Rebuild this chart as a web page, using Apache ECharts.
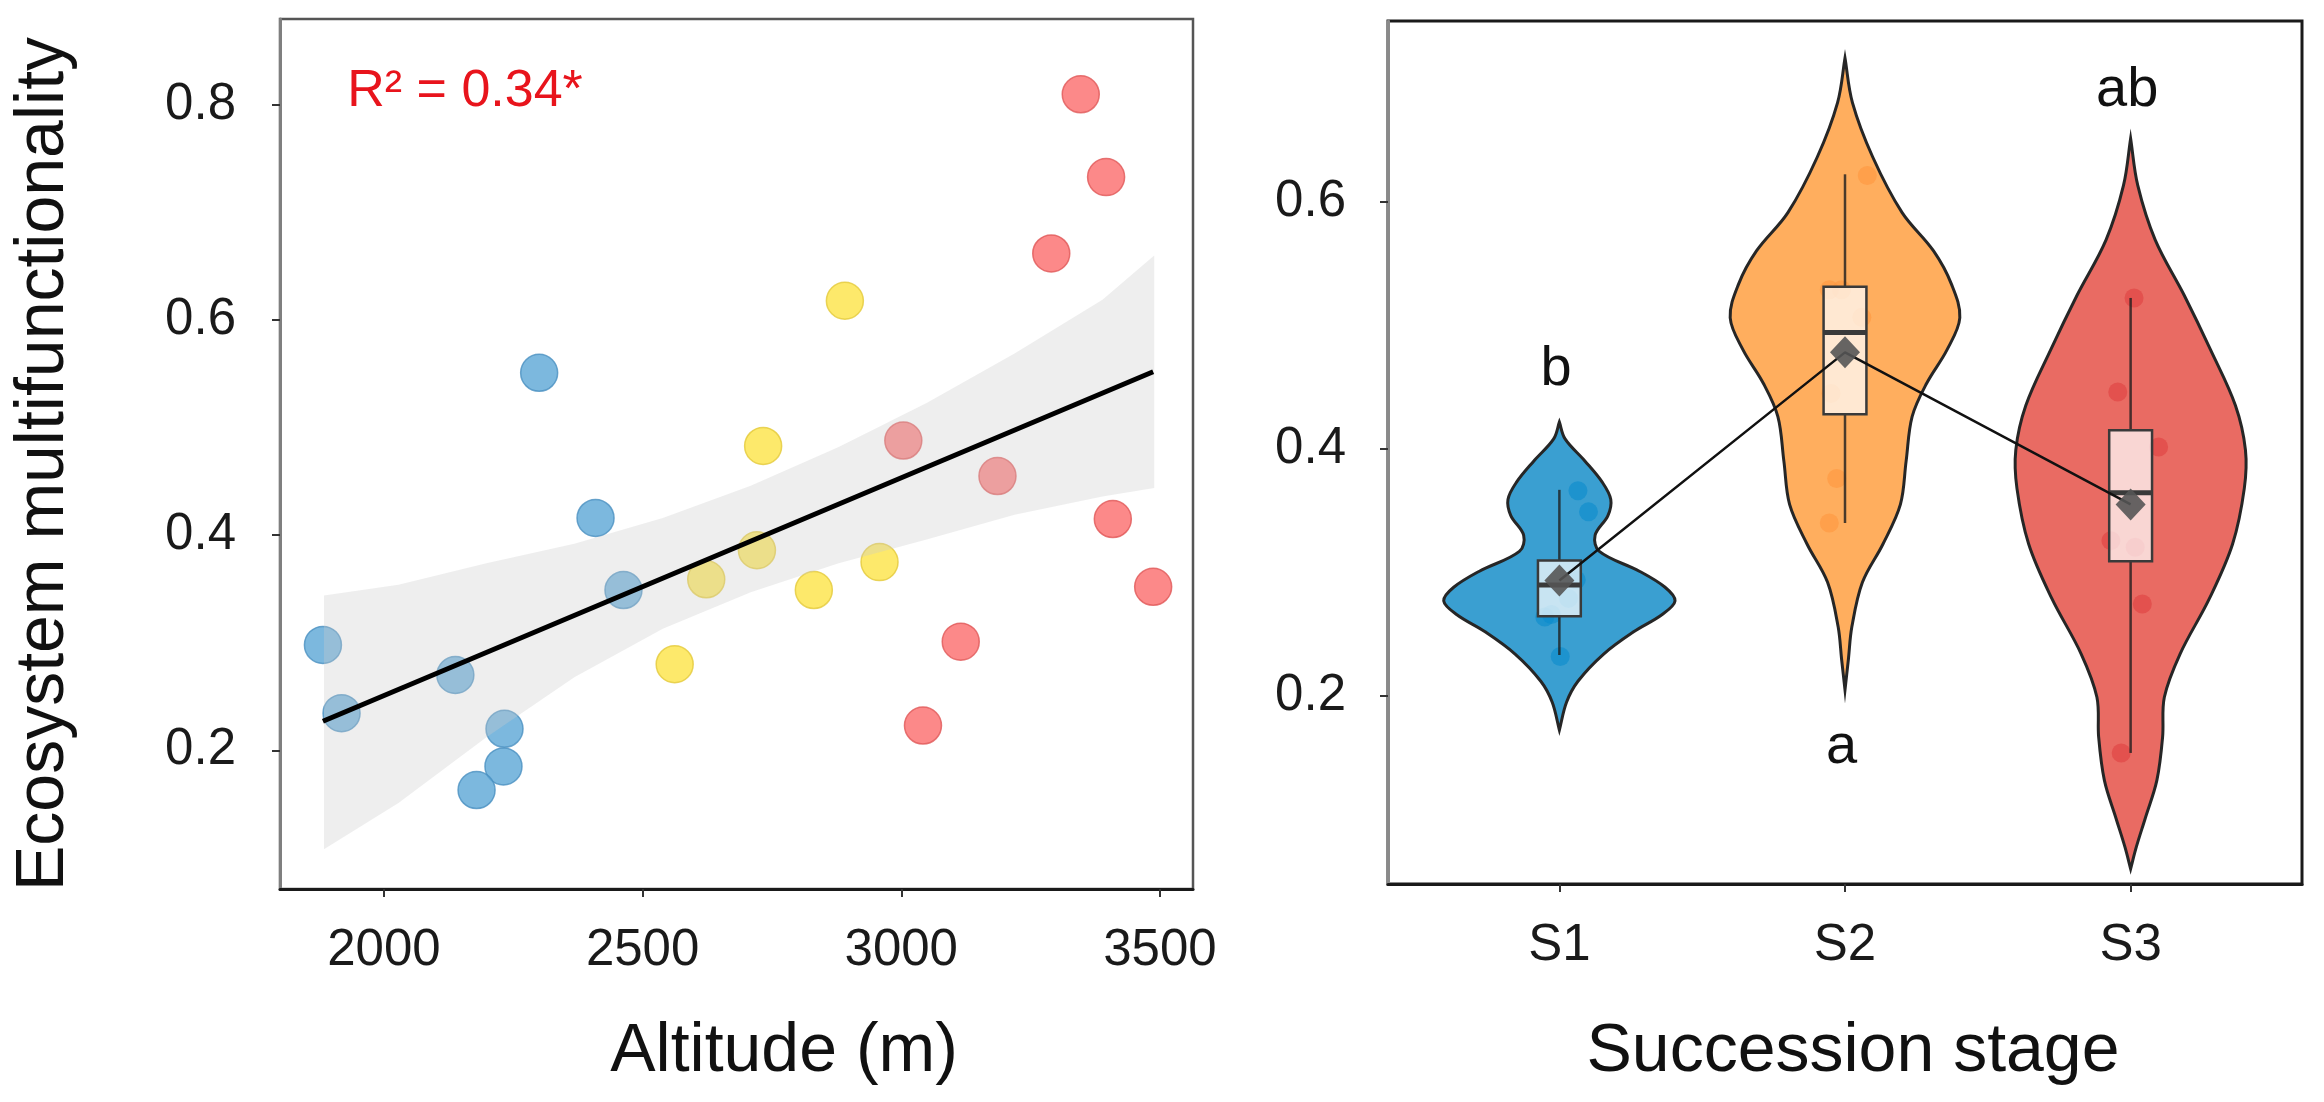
<!DOCTYPE html>
<html>
<head>
<meta charset="utf-8">
<script src="https://cdn.jsdelivr.net/npm/echarts@6/dist/echarts.min.js"></script>
<style>
  html, body { margin: 0; padding: 0; background: #fff; }
  #chart { width: 2324px; height: 1102px; }
</style>
</head>
<body>
<div id="chart"></div>
<script>
// ---- left panel: multifunctionality vs altitude ----
const blueAlt = [1882, 1918, 2138, 2233, 2231, 2179, 2300, 2409, 2463]
const blueEmf = [0.298, 0.2345, 0.270, 0.220, 0.185, 0.163, 0.551, 0.416, 0.349]
const yellowAlt = [2562, 2623, 2721, 2733, 2831, 2891, 2958]
const yellowEmf = [0.280, 0.359, 0.386, 0.483, 0.349, 0.618, 0.375]
const redAlt = [3004, 3186, 3042, 3115, 3290, 3347, 3396, 3409, 3487]
const redEmf = [0.488, 0.455, 0.223, 0.301, 0.662, 0.810, 0.733, 0.415, 0.352]

// fitted line and its confidence band
const fitAlt = [1882, 3487]
const fitEmf = [0.227, 0.552]
const bandAlt = [1884, 2028, 2198, 2368, 2539, 2709, 2879, 3049, 3219, 3389, 3489]
const bandUp = [0.344, 0.354, 0.374, 0.392, 0.416, 0.446, 0.482, 0.523, 0.569, 0.619, 0.660]
const bandLow = [0.108, 0.151, 0.212, 0.268, 0.313, 0.347, 0.374, 0.396, 0.419, 0.436, 0.444]

const altTicks = [2000, 2500, 3000, 3500]
const emfTicks = [0.2, 0.4, 0.6, 0.8]

// ---- right panel: succession stages ----
const stages = ['S1', 'S2', 'S3']
const stagePos = [1, 2, 3]
const stageTicks = [0.2, 0.4, 0.6]

// violin outlines: value, half width (in category units)
const s1ViolinY = [0.4216, 0.408, 0.390, 0.373, 0.359, 0.346, 0.330, 0.317, 0.301, 0.288, 0.277, 0.266, 0.252, 0.234, 0.212, 0.195, 0.1725]
const s1ViolinW = [0, 0.02, 0.09, 0.15, 0.18, 0.17, 0.125, 0.14, 0.28, 0.37, 0.405, 0.36, 0.26, 0.155, 0.065, 0.025, 0]
const s2ViolinY = [0.716, 0.680, 0.636, 0.591, 0.560, 0.533, 0.506, 0.480, 0.453, 0.426, 0.390, 0.355, 0.323, 0.292, 0.256, 0.230, 0.205]
const s2ViolinW = [0, 0.026, 0.097, 0.20, 0.31, 0.373, 0.402, 0.357, 0.286, 0.235, 0.214, 0.194, 0.133, 0.061, 0.024, 0.012, 0]
const s3ViolinY = [0.651, 0.613, 0.569, 0.524, 0.480, 0.435, 0.399, 0.368, 0.323, 0.279, 0.234, 0.199, 0.167, 0.132, 0.101, 0.078, 0.0603]
const s3ViolinW = [0, 0.025, 0.086, 0.188, 0.28, 0.367, 0.402, 0.398, 0.357, 0.276, 0.173, 0.118, 0.112, 0.092, 0.051, 0.02, 0]

// box stats: lower whisker, q1, median, q3, upper whisker
const boxLow = [0.2332, 0.340, 0.154]
const boxQ1 = [0.2646, 0.428, 0.309]
const boxMed = [0.2899, 0.494, 0.3645]
const boxQ3 = [0.3096, 0.531, 0.415]
const boxHigh = [0.3668, 0.622, 0.522]
const stageMean = [0.2934, 0.478, 0.355]

// jittered raw points
const s1JitX = [1.065, 1.102, 1.059, 1.032, 0.949, 0.972, 1.003]
const s1JitY = [0.366, 0.349, 0.294, 0.279, 0.264, 0.266, 0.232]
const s2JitX = [2.078, 1.945, 1.988, 2.059, 1.951, 1.971, 1.945]
const s2JitY = [0.621, 0.5286, 0.5286, 0.5063, 0.4448, 0.376, 0.340]
const s3JitX = [3.012, 2.955, 3.098, 2.931, 3.016, 3.041, 2.967]
const s3JitY = [0.522, 0.446, 0.4015, 0.3257, 0.3203, 0.2744, 0.154]

const letters = ['b', 'a', 'ab']
const letterY = [0.464, 0.158, 0.690]

const FONT = '"Liberation Sans", Arial, sans-serif'
const violinColors = ['#3a9fd1', '#ffae5e', '#e96b63']
const jitterColors = ['rgba(8,138,204,0.72)', 'rgba(255,150,60,0.72)', 'rgba(222,62,62,0.72)']

const zip = (xs, ys) => xs.map((x, i) => [x, ys[i]])

const violins = [
  {y: s1ViolinY, w: s1ViolinW},
  {y: s2ViolinY, w: s2ViolinW},
  {y: s3ViolinY, w: s3ViolinW},
]

function renderViolin(params, api) {
  const i = params.dataIndex
  const pos = api.value(0)
  const v = violins[i]
  const right = []
  const left = []
  for (let k = 0; k < v.y.length; k++) {
    right.push(api.coord([pos + v.w[k], v.y[k]]))
    left.unshift(api.coord([pos - v.w[k], v.y[k]]))
  }
  return {
    type: 'polygon',
    shape: {points: right.concat(left), smooth: 0.35},
    style: {fill: violinColors[i], stroke: '#262626', lineWidth: 3},
  }
}

function renderBox(params, api) {
  const pos = api.value(0)
  const hw = 0.075
  const lo = api.coord([pos, api.value(1)])
  const q1 = api.coord([pos, api.value(2)])
  const q3 = api.coord([pos, api.value(4)])
  const hi = api.coord([pos, api.value(5)])
  const tl = api.coord([pos - hw, api.value(4)])
  const br = api.coord([pos + hw, api.value(2)])
  const ml = api.coord([pos - hw, api.value(3)])
  const mr = api.coord([pos + hw, api.value(3)])
  const whisker = {stroke: 'rgba(30,30,30,0.8)', lineWidth: 2.5}
  return {
    type: 'group',
    children: [
      {type: 'line', shape: {x1: lo[0], y1: lo[1], x2: q1[0], y2: q1[1]}, style: whisker},
      {type: 'line', shape: {x1: q3[0], y1: q3[1], x2: hi[0], y2: hi[1]}, style: whisker},
      {
        type: 'rect',
        shape: {x: tl[0], y: tl[1], width: br[0] - tl[0], height: br[1] - tl[1]},
        style: {fill: 'rgba(255,255,255,0.72)', stroke: '#3a3a3a', lineWidth: 2.5},
      },
      {type: 'line', shape: {x1: ml[0], y1: ml[1], x2: mr[0], y2: mr[1]}, style: {stroke: '#3a3a3a', lineWidth: 5}},
    ],
  }
}

function renderBand(params, api) {
  const pts = []
  bandAlt.forEach((x, k) => pts.push(api.coord([x, bandUp[k]])))
  for (let k = bandAlt.length - 1; k >= 0; k--) pts.push(api.coord([bandAlt[k], bandLow[k]]))
  return {
    type: 'polygon',
    shape: {points: pts},
    style: {fill: 'rgba(203,203,203,0.33)'},
  }
}

function textRenderer(texts, opts) {
  return (params, api) => {
    const p = api.coord([api.value(0), api.value(1)])
    return {
      type: 'text',
      x: p[0],
      y: p[1],
      style: Object.assign({
        text: texts[params.dataIndex],
        font: `56px ${FONT}`,
        fill: '#111',
        align: 'center',
        verticalAlign: 'middle',
      }, opts),
    }
  }
}

const axisTick = {show: true, length: 8, lineStyle: {color: '#333', width: 2}}
const labelStyle = {color: '#1a1a1a', fontSize: 51, fontFamily: FONT}

function scatterSeries(xs, ys, color, border) {
  return {
    type: 'scatter',
    xAxisIndex: 0, yAxisIndex: 0,
    data: zip(xs, ys),
    symbolSize: 37,
    itemStyle: {color, borderColor: border, borderWidth: 1.5},
    z: 2,
    silent: true,
  }
}

function jitterSeries(xs, ys, color) {
  return {
    type: 'scatter',
    xAxisIndex: 1, yAxisIndex: 1,
    data: zip(xs, ys),
    symbolSize: 19,
    itemStyle: {color},
    z: 3,
    silent: true,
  }
}

const chart = echarts.init(document.getElementById('chart'), null, {renderer: 'canvas'})

chart.setOption({
  animation: false,
  backgroundColor: '#fff',
  grid: [
    {left: 280, top: 19, width: 913, height: 870, show: true, borderColor: '#555', borderWidth: 2.5, backgroundColor: 'transparent'},
    {left: 1388, top: 21, width: 914, height: 863, show: true, borderColor: '#1a1a1a', borderWidth: 3, backgroundColor: 'transparent'},
  ],
  xAxis: [
    {
      type: 'value', gridIndex: 0, min: 1799, max: 3564,
      axisLine: {show: true, lineStyle: {color: '#1a1a1a', width: 3}},
      axisTick: Object.assign({customValues: altTicks}, axisTick),
      axisLabel: Object.assign({customValues: altTicks, margin: 36, formatter: v => String(v)}, labelStyle),
      splitLine: {show: false},
    },
    {
      type: 'value', gridIndex: 1, min: 0.4, max: 3.6,
      axisLine: {show: true, lineStyle: {color: '#1a1a1a', width: 3}},
      axisTick: Object.assign({customValues: stagePos}, axisTick),
      axisLabel: Object.assign({customValues: stagePos, margin: 36, formatter: v => stages[Math.round(v) - 1]}, labelStyle),
      splitLine: {show: false},
    },
  ],
  yAxis: [
    {
      type: 'value', gridIndex: 0, min: 0.071, max: 0.88,
      axisLine: {show: true, lineStyle: {color: '#7f7f7f', width: 3}},
      axisTick: Object.assign({customValues: emfTicks}, axisTick),
      axisLabel: Object.assign({customValues: emfTicks, margin: 44, formatter: v => v.toFixed(1)}, labelStyle),
      splitLine: {show: false},
    },
    {
      type: 'value', gridIndex: 1, min: 0.048, max: 0.746,
      axisLine: {show: true, lineStyle: {color: '#8a8a8a', width: 3}},
      axisTick: Object.assign({customValues: stageTicks}, axisTick),
      axisLabel: Object.assign({customValues: stageTicks, margin: 42, formatter: v => v.toFixed(1)}, labelStyle),
      splitLine: {show: false},
    },
  ],
  graphic: [
    {
      type: 'text', x: 44, y: 464, rotation: Math.PI / 2,
      style: {text: 'Ecosystem multifunctionality', font: `68px ${FONT}`, fill: '#111', align: 'center', verticalAlign: 'middle'},
    },
    {
      type: 'text', x: 784, y: 1052,
      style: {text: 'Altitude (m)', font: `68px ${FONT}`, fill: '#111', align: 'center', verticalAlign: 'middle'},
    },
    {
      type: 'text', x: 1853, y: 1052,
      style: {text: 'Succession stage', font: `68px ${FONT}`, fill: '#111', align: 'center', verticalAlign: 'middle'},
    },
  ],
  series: [
    scatterSeries(blueAlt, blueEmf, '#5ba6d6', '#4a90c0'),
    scatterSeries(yellowAlt, yellowEmf, '#fde446', '#e3c93a'),
    scatterSeries(redAlt, redEmf, '#fb6b6b', '#e05858'),
    {
      type: 'custom', xAxisIndex: 0, yAxisIndex: 0,
      data: [[bandAlt[0], bandUp[0]]],
      renderItem: renderBand, z: 4, silent: true,
    },
    {
      type: 'line', xAxisIndex: 0, yAxisIndex: 0,
      data: zip(fitAlt, fitEmf), symbol: 'none',
      lineStyle: {color: '#000', width: 5}, z: 5, silent: true,
    },
    {
      type: 'custom', xAxisIndex: 0, yAxisIndex: 0,
      data: [[1929, 0.812]],
      renderItem: textRenderer(['R² = 0.34*'], {font: `52px ${FONT}`, fill: '#e8141c', align: 'left'}),
      z: 6, silent: true,
    },
    // right panel
    {
      type: 'custom', xAxisIndex: 1, yAxisIndex: 1,
      data: stagePos.map((p, i) => [p, violins[i].y[0]]),
      renderItem: renderViolin, z: 2, silent: true,
    },
    jitterSeries(s1JitX, s1JitY, jitterColors[0]),
    jitterSeries(s2JitX, s2JitY, jitterColors[1]),
    jitterSeries(s3JitX, s3JitY, jitterColors[2]),
    {
      type: 'custom', xAxisIndex: 1, yAxisIndex: 1,
      data: stagePos.map((p, i) => [p, boxLow[i], boxQ1[i], boxMed[i], boxQ3[i], boxHigh[i]]),
      encode: {x: 0, y: [1, 2, 3, 4, 5]},
      renderItem: renderBox, z: 4, silent: true,
    },
    {
      type: 'line', xAxisIndex: 1, yAxisIndex: 1,
      data: zip(stagePos, stageMean),
      symbol: 'diamond', symbolSize: [30, 32], showAllSymbol: true,
      itemStyle: {color: 'rgba(85,85,85,0.9)'},
      lineStyle: {color: '#111', width: 2.5},
      z: 5, silent: true,
    },
    {
      type: 'custom', xAxisIndex: 1, yAxisIndex: 1,
      data: zip(stagePos.map(p => p - 0.012), letterY),
      renderItem: textRenderer(letters, {}),
      z: 6, silent: true,
    },
  ],
})
</script>
</body>
</html>
